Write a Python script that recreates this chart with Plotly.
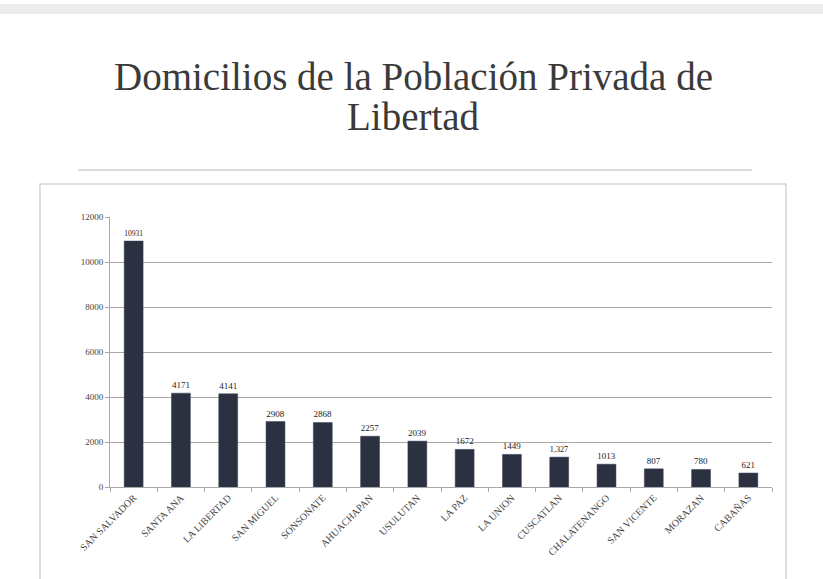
import plotly.graph_objects as go

# Departamentos de El Salvador y número de domicilios
departamentos = [
    "SAN SALVADOR", "SANTA ANA", "LA LIBERTAD", "SAN MIGUEL", "SONSONATE",
    "AHUACHAPAN", "USULUTAN", "LA PAZ", "LA UNION", "CUSCATLAN",
    "CHALATENANGO", "SAN VICENTE", "MORAZAN", "CABAÑAS",
]
domicilios = [10931, 4171, 4141, 2908, 2868, 2257, 2039, 1672, 1449, 1327, 1013, 807, 780, 621]
etiquetas = ["10931", "4171", "4141", "2908", "2868", "2257", "2039", "1672", "1449",
             "1,327", "1013", "807", "780", "621"]
y_ticks = [0, 2000, 4000, 6000, 8000, 10000, 12000]

W, H = 823, 579
L, R, T, B = 110, 51, 217, 92
PW, PH = W - L - R, H - T - B


def px(x):
    return (x - L) / PW


def py(y):
    return (H - B - y) / PH


SERIF = "Liberation Serif, Times New Roman, serif"

fig = go.Figure(
    go.Bar(
        x=departamentos,
        y=domicilios,
        text=etiquetas,
        textposition="outside",
        textfont=dict(family=SERIF, size=9, color="#222222"),
        marker=dict(color="#2c3142", line=dict(color="#3a4054", width=0.5)),
        cliponaxis=False,
        width=0.4,
    )
)

shapes = [
    # banda gris superior
    dict(type="rect", xref="paper", yref="paper", x0=px(0), x1=px(W), y0=py(4), y1=py(14),
         fillcolor="#ececec", line=dict(width=0), layer="below"),
    # línea bajo el título
    dict(type="line", xref="paper", yref="paper", x0=px(78), x1=px(752), y0=py(170), y1=py(170),
         line=dict(color="#b8b8b8", width=1.2)),
    # marco del gráfico
    dict(type="rect", xref="paper", yref="paper", x0=px(40), x1=px(786), y0=py(184), y1=py(600),
         line=dict(color="#d4d4d4", width=1.5), fillcolor="rgba(0,0,0,0)", layer="below"),
]

titulo = ["Domicilios de la Población Privada de", "Libertad"]
titulo_y = [76, 117]

fig.update_layout(
    width=W, height=H,
    margin=dict(l=L, r=R, t=T, b=B),
    paper_bgcolor="white",
    plot_bgcolor="white",
    showlegend=False,
    shapes=shapes,
    annotations=[
        dict(text=t, xref="paper", yref="paper", x=px(413), y=py(yy),
             xanchor="center", yanchor="middle", showarrow=False,
             font=dict(family=SERIF, size=39, color="#3a3a3a"))
        for t, yy in zip(titulo, titulo_y)
    ],
    bargap=0.6,
    xaxis=dict(
        tickangle=-45,
        tickfont=dict(family=SERIF, size=10, color="#444444"),
        showline=True, linecolor="#a8a8a8", linewidth=1,
        ticks="outside", ticklen=4, tickcolor="#a8a8a8",
        tickson="boundaries", showgrid=False,
    ),
    yaxis=dict(
        range=[0, 12000],
        tickvals=y_ticks,
        tickformat="d",
        tickfont=dict(family=SERIF, size=9, color="#444444"),
        showline=True, linecolor="#a8a8a8", linewidth=1,
        ticks="outside", ticklen=4, tickcolor="#a8a8a8",
        showgrid=True, gridcolor="#a8a8a8", gridwidth=1,
        zeroline=False,
    ),
)

fig.write_html("out.html")
